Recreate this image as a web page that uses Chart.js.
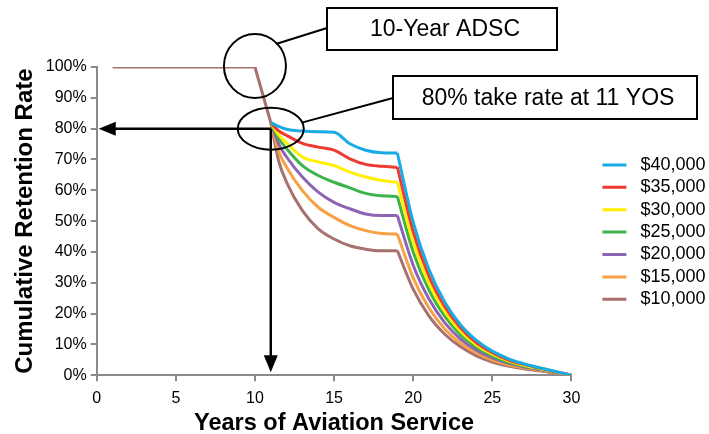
<!DOCTYPE html>
<html>
<head>
<meta charset="utf-8">
<script src="https://cdn.jsdelivr.net/npm/chart.js@4.4.0/dist/chart.umd.min.js"></script>
<style>
  html, body { margin: 0; padding: 0; background: #fff; }
</style>
</head>
<body>
<canvas id="retention" width="709" height="434"></canvas>
<script>
// shared part: everyone stays until the ADSC ends, then 80% take the bonus
var sharedYears = [1, 10, 11];
var sharedRate = [100, 100, 82];

// years 11..30 for each bonus level (extra read at 11.5 where the curves bend hard)
var years = [11, 11.5, 12, 13, 14, 15, 16, 17, 18, 19, 20, 21, 22, 23, 24, 25, 26, 27, 28, 29, 30];
var bonusLabels = ['$40,000', '$35,000', '$30,000', '$25,000', '$20,000', '$15,000', '$10,000'];
var bonusColors = ['#17ace6', '#ee3a33', '#fff000', '#3db34a', '#8c64b2', '#f7a144', '#a6716f'];

var rate40k = [82, 80.7, 79.8, 79.2, 79.0, 78.8, 75.1, 73.0, 72.2, 72.1, 49.7, 34.3, 23.7, 16.3, 11.3, 7.8, 5.4, 3.7, 2.4, 1.2, 0];
var rate35k = [82, 79.3, 77.8, 75.2, 74.0, 73.0, 70.2, 68.4, 67.8, 67.5, 46.6, 32.1, 22.2, 15.3, 10.5, 7.3, 5.0, 3.5, 2.3, 1.1, 0];
var rate30k = [82, 78.0, 75.4, 70.8, 69.2, 68.0, 65.9, 64.3, 63.2, 62.6, 43.2, 29.8, 20.6, 14.2, 9.8, 6.8, 4.7, 3.2, 2.1, 1.0, 0];
var rate25k = [82, 76.8, 73.5, 68.0, 64.8, 62.6, 60.8, 59.0, 58.2, 58.0, 40.0, 27.6, 19.1, 13.1, 9.1, 6.3, 4.3, 3.0, 2.0, 1.0, 0];
var rate20k = [82, 75.0, 70.8, 64.3, 59.4, 56.1, 54.0, 52.3, 51.8, 51.8, 35.7, 24.7, 17.0, 11.7, 8.1, 5.6, 3.9, 2.7, 1.8, 0.9, 0];
var rate15k = [82, 72.5, 67.5, 59.9, 54.5, 51.2, 48.5, 46.9, 46.0, 45.8, 31.6, 21.8, 15.0, 10.4, 7.2, 4.9, 3.4, 2.4, 1.6, 0.8, 0];
var rate10k = [82, 69.5, 62.6, 53.4, 47.5, 44.2, 42.0, 40.9, 40.4, 40.4, 27.9, 19.2, 13.3, 9.2, 6.3, 4.3, 3.0, 2.1, 1.4, 0.7, 0];

var allRates = [rate40k, rate35k, rate30k, rate25k, rate20k, rate15k, rate10k];
var xTicks = [0, 5, 10, 15, 20, 25, 30];
var yTicks = [0, 10, 20, 30, 40, 50, 60, 70, 80, 90, 100];

var adscYear = 10;
var takeYear = 11;
var takeRate = 80;
var retireYear = 19; // curves break at 19, drawn as two pieces so the corner stays sharp

var font = "'Liberation Sans', Arial, Helvetica, sans-serif";

function pts(xs, ys) {
    return xs.map(function (x, i) { return { x: x, y: ys[i] }; });
}

var datasets = [];
var cut = years.indexOf(retireYear);
allRates.forEach(function (r, i) {
    datasets.push({
        label: bonusLabels[i],
        data: pts(years.slice(0, cut + 1), r.slice(0, cut + 1)),
        borderColor: bonusColors[i],
        backgroundColor: bonusColors[i],
        borderWidth: 3,
        inLegend: true
    });
    datasets.push({
        label: bonusLabels[i] + ' after 19',
        data: pts(years.slice(cut), r.slice(cut)),
        borderColor: bonusColors[i],
        backgroundColor: bonusColors[i],
        borderWidth: 3,
        inLegend: false
    });
});
datasets.unshift({
    label: 'shared',
    data: pts(sharedYears, sharedRate),
    borderColor: bonusColors[6],
    backgroundColor: bonusColors[6],
    borderWidth: 3,
    cubicInterpolationMode: 'default',
    tension: 0,
    inLegend: false
});

function arrowHead(ctx, tipX, tipY, dir) {
    var len = 17, half = 7;
    ctx.beginPath();
    ctx.moveTo(tipX, tipY);
    if (dir === 'left') {
        ctx.lineTo(tipX + len, tipY - half);
        ctx.lineTo(tipX + len, tipY + half);
    } else {
        ctx.lineTo(tipX - half, tipY - len);
        ctx.lineTo(tipX + half, tipY - len);
    }
    ctx.closePath();
    ctx.fill();
}

function textBox(ctx, x, y, w, h, text) {
    ctx.lineWidth = 2;
    ctx.strokeRect(x, y, w, h);
    ctx.font = '23px ' + font;
    ctx.textAlign = 'center';
    ctx.textBaseline = 'middle';
    ctx.fillText(text, x + w / 2 + 3, y + h / 2 + 1);
}

var callouts = {
    id: 'callouts',
    afterDraw: function (chart) {
        var ctx = chart.ctx;
        var sx = chart.scales.x, sy = chart.scales.y;
        var px = sx.getPixelForValue(takeYear);
        var py = sy.getPixelForValue(takeRate);
        ctx.save();
        ctx.strokeStyle = '#000';
        ctx.fillStyle = '#000';

        // arrows from the 80% / 11 YOS point
        ctx.lineWidth = 2.5;
        ctx.beginPath();
        ctx.moveTo(px, py);
        ctx.lineTo(sx.left + 15, py);
        ctx.stroke();
        arrowHead(ctx, sx.left + 2, py, 'left');
        ctx.beginPath();
        ctx.moveTo(px, py);
        ctx.lineTo(px, sy.bottom - 15);
        ctx.stroke();
        arrowHead(ctx, px, sy.bottom - 3, 'down');

        // circle round the end of the ADSC
        var cx = sx.getPixelForValue(adscYear), cy = sy.getPixelForValue(100);
        ctx.lineWidth = 2;
        ctx.beginPath();
        ctx.ellipse(cx, cy - 1, 31, 32, 0, 0, Math.PI * 2);
        ctx.stroke();
        ctx.beginPath();
        ctx.moveTo(cx + 21, cy - 23);
        ctx.lineTo(327, 28);
        ctx.stroke();
        textBox(ctx, 327, 8, 230, 42, '10-Year ADSC');

        // ellipse round the take-rate point
        ctx.beginPath();
        ctx.ellipse(px, py, 33, 21, 0, 0, Math.PI * 2);
        ctx.stroke();
        ctx.beginPath();
        ctx.moveTo(px + 31, py - 6);
        ctx.lineTo(393, 98);
        ctx.stroke();
        textBox(ctx, 393, 76, 304, 43, '80% take rate at 11 YOS');
        ctx.restore();
    }
};

new Chart(document.getElementById('retention').getContext('2d'), {
    type: 'line',
    data: { datasets: datasets },
    options: {
        responsive: false,
        animation: false,
        events: [],
        layout: { padding: { top: 67, left: 11, right: -6.4, bottom: 0 } },
        elements: { line: { borderWidth: 3, cubicInterpolationMode: 'monotone' }, point: { radius: 0 } },
        scales: {
            x: {
                type: 'linear',
                min: 0,
                max: 30,
                afterBuildTicks: function (s) { s.ticks = xTicks.map(function (v) { return { value: v }; }); },
                grid: { drawOnChartArea: false, drawTicks: true, tickLength: 6, color: '#8a8a8a', lineWidth: 2 },
                border: { display: true, color: '#8a8a8a', width: 2 },
                ticks: { color: '#000', padding: 8, font: { family: font, size: 16 } },
                title: {
                    display: true,
                    text: 'Years of Aviation Service',
                    color: '#000',
                    padding: { top: 0, bottom: 3.5 },
                    font: { family: font, size: 23.5, weight: 'bold', lineHeight: 0.6 }
                }
            },
            y: {
                min: 0,
                max: 100,
                afterBuildTicks: function (s) { s.ticks = yTicks.map(function (v) { return { value: v }; }); },
                grid: { drawOnChartArea: false, drawTicks: true, tickLength: 6, color: '#8a8a8a', lineWidth: 2 },
                border: { display: true, color: '#8a8a8a', width: 2 },
                ticks: {
                    color: '#000',
                    padding: 4,
                    font: { family: font, size: 16 },
                    callback: function (v) { return v + '%'; }
                },
                title: {
                    display: true,
                    text: 'Cumulative Retention Rate',
                    color: '#000',
                    padding: { top: 0, bottom: 2 },
                    font: { family: font, size: 24, weight: 'bold' }
                }
            },
            gap: {
                position: 'right',
                display: true,
                grid: { display: false },
                border: { display: false },
                ticks: { display: false },
                afterFit: function (s) { s.width = 26.6; }
            }
        },
        plugins: {
            tooltip: { enabled: false },
            legend: {
                position: 'right',
                fullSize: false,
                title: { display: true, text: '', padding: 5, font: { size: 10 } },
                labels: {
                    color: '#000',
                    font: { family: font, size: 18 },
                    usePointStyle: true,
                    pointStyle: 'line',
                    pointStyleWidth: 24,
                    padding: 4.4,
                    filter: function (item, data) { return data.datasets[item.datasetIndex].inLegend; },
                    generateLabels: function (chart) {
                        var items = Chart.defaults.plugins.legend.labels.generateLabels(chart);
                        items.forEach(function (it) { it.text = ' ' + it.text; });
                        return items;
                    }
                }
            }
        }
    },
    plugins: [callouts]
});
</script>
</body>
</html>
